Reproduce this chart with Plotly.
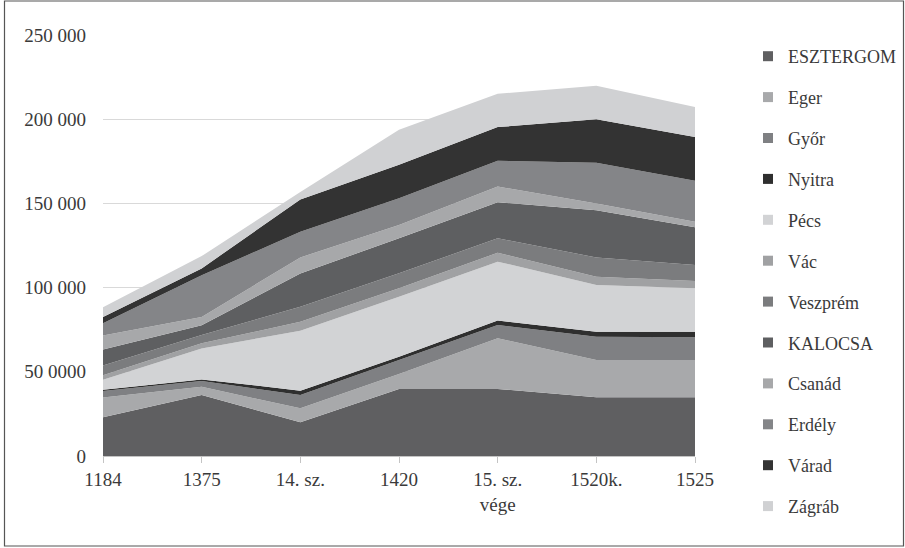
import plotly.graph_objects as go

categories = ["1184", "1375", "14. sz.", "1420", "15. sz.<br>vége", "1520k.", "1525"]

esztergom = [23000, 36200, 20000, 39800, 39800, 34900, 34900]
eger      = [11700, 4900, 8300, 8900, 30100, 22100, 22100]
gyor      = [3900, 3400, 7900, 8300, 7900, 13800, 13500]
nyitra    = [800, 1000, 2600, 2000, 2600, 3000, 3300]
pecs      = [5900, 18400, 35600, 35600, 35000, 27700, 25800]
vac       = [2600, 3000, 5300, 5000, 5300, 4900, 4300]
veszprem  = [5900, 4900, 8900, 8900, 8600, 11500, 9500]
kalocsa   = [9500, 5900, 19800, 20800, 21400, 28100, 22400]
csanad    = [8300, 4900, 9500, 7900, 9300, 4000, 3300]
erdely    = [7300, 24800, 15200, 15900, 15300, 24100, 24300]
varad     = [3600, 4000, 19200, 19800, 20000, 25800, 26100]
zagrab    = [5900, 7300, 4500, 20800, 19800, 19900, 17800]

series_names = ["ESZTERGOM", "Eger", "Győr", "Nyitra", "Pécs", "Vác",
                "Veszprém", "KALOCSA", "Csanád", "Erdély", "Várad", "Zágráb"]
series_values = [esztergom, eger, gyor, nyitra, pecs, vac,
                 veszprem, kalocsa, csanad, erdely, varad, zagrab]
colors = ["#5f5f61", "#a8a9ab", "#7f8083", "#2f2f2f", "#d2d3d5", "#a0a1a3",
          "#7b7c7e", "#5e5f61", "#a7a8aa", "#848588", "#333333", "#d0d1d3"]

y_tickvals = [0, 50000, 100000, 150000, 200000, 250000]
y_ticktext = ["0", "50 0000", "100 000", "150 000", "200 000", "250 000"]

FONT = "Liberation Serif"
TEXT = "#3a3a3a"

fig = go.Figure()
for name, vals, col in zip(series_names, series_values, colors):
    fig.add_trace(go.Scatter(
        x=categories, y=vals, name=name, mode="lines",
        stackgroup="one", line=dict(width=0, color=col),
        fillcolor=col, showlegend=False, hoverinfo="x+y+name"))

for name, col in zip(series_names, colors):
    fig.add_trace(go.Scatter(
        x=[None], y=[None], name=name, mode="markers",
        marker=dict(symbol="square", size=10, color=col),
        legendgroup=name, showlegend=True))

W, H = 905, 548
L, R, T, B = 103, 695, 35, 456
pw, ph = R - L, B - T

def px(x):
    return (x - L) / pw

def py(y):
    return (B - y) / ph

fig.update_layout(
    width=W, height=H,
    margin=dict(l=L, r=W - R, t=T, b=H - B, pad=0, autoexpand=False),
    paper_bgcolor="white", plot_bgcolor="white",
    font=dict(family=FONT, size=19, color=TEXT),
    showlegend=True,
    legend=dict(x=px(748), y=py(38), xanchor="left", yanchor="top",
                traceorder="grouped", tracegroupgap=14.5, maxheight=540,
                font=dict(family=FONT, size=18, color=TEXT),
                bgcolor="rgba(0,0,0,0)"),
    xaxis=dict(type="category", range=[0, 6], showgrid=False,
               showline=True, linecolor="#c4c4c4", linewidth=1,
               ticks="outside", ticklen=6, tickcolor="#c4c4c4",
               tickfont=dict(family=FONT, size=19, color=TEXT),
               zeroline=False, fixedrange=True, automargin=False),
    yaxis=dict(range=[0, 250000], tickvals=y_tickvals, ticktext=y_ticktext,
               showgrid=True, gridcolor="#d9d9d9", gridwidth=1,
               showline=False, zeroline=False, ticks="",
               ticklabelstandoff=16, automargin=False,
               tickfont=dict(family=FONT, size=19, color=TEXT),
               fixedrange=True),
    shapes=[dict(type="rect", xref="paper", yref="paper",
                 x0=px(4.5), x1=px(903.5), y0=py(546), y1=py(1),
                 line=dict(color="#555555", width=1.2), layer="above")],
)

fig.write_html(
    "out.html",
    config={"displayModeBar": False},
    post_script="document.body.style.margin='0';document.body.style.padding='0';"
                "document.body.style.overflow='hidden';",
)
